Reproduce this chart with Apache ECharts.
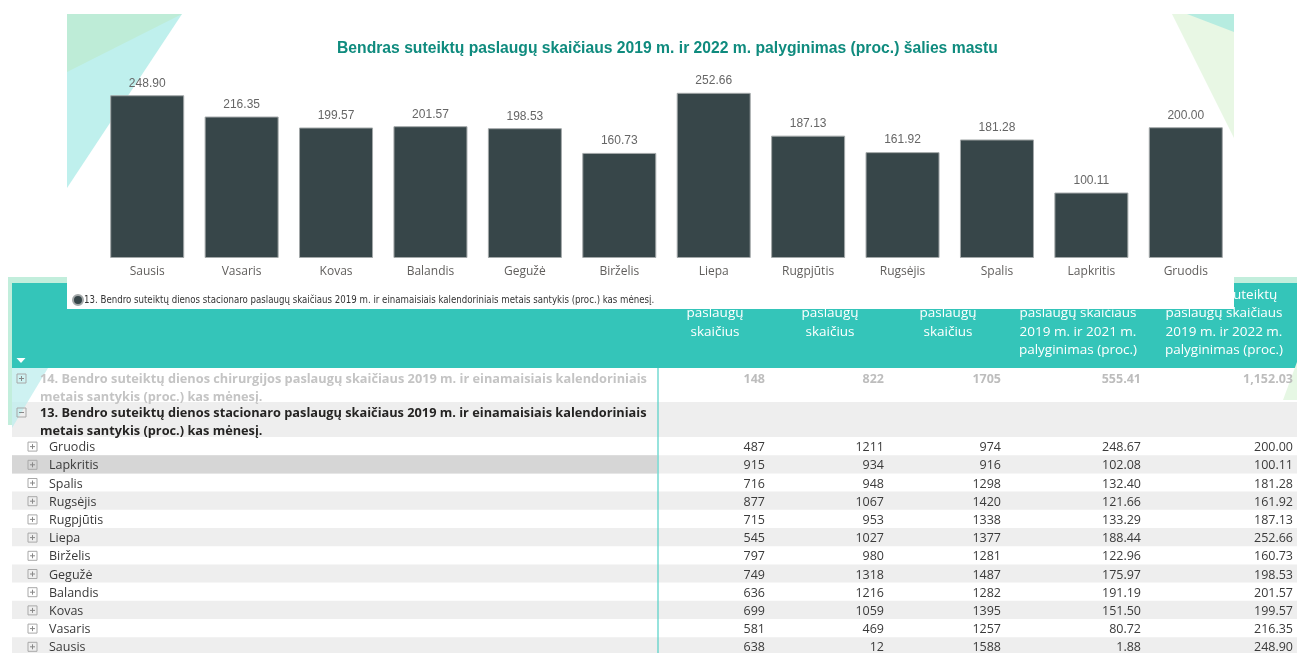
<!DOCTYPE html>
<html>
<head>
<meta charset="utf-8">
<script src="https://cdn.jsdelivr.net/npm/echarts@6/dist/echarts.min.js"></script>
<style>
  html, body { margin: 0; padding: 0; background: #ffffff; }
  #main { width: 1297px; height: 653px; }
</style>
</head>
<body>
<div id="main"></div>
<script>
// Months in calendar order (bar chart order)
var months = ['Sausis', 'Vasaris', 'Kovas', 'Balandis', 'Gegužė', 'Birželis', 'Liepa', 'Rugpjūtis', 'Rugsėjis', 'Spalis', 'Lapkritis', 'Gruodis'];
// 2019 m. vs 2022 m. (proc.)
var ratio2022 = [248.90, 216.35, 199.57, 201.57, 198.53, 160.73, 252.66, 187.13, 161.92, 181.28, 100.11, 200.00];
// 2019 m. vs 2021 m. (proc.)
var ratio2021 = [1.88, 80.72, 151.50, 191.19, 175.97, 122.96, 188.44, 133.29, 121.66, 132.40, 102.08, 248.67];
// suteiktų paslaugų skaičius
var count2019 = [638, 581, 699, 636, 749, 797, 545, 715, 877, 716, 915, 487];
var count2021 = [12, 469, 1059, 1216, 1318, 980, 1027, 953, 1067, 948, 934, 1211];
var count2022 = [1588, 1257, 1395, 1282, 1487, 1281, 1377, 1338, 1420, 1298, 916, 974];

// row 14 (collapsed group)
var row14Label = '14. Bendro suteiktų dienos chirurgijos paslaugų skaičiaus 2019 m. ir einamaisiais kalendoriniais\nmetais santykis (proc.) kas mėnesį.';
var row14Values = [148, 822, 1705, 555.41, 1152.03];
var row13Label = '13. Bendro suteiktų dienos stacionaro paslaugų skaičiaus 2019 m. ir einamaisiais kalendoriniais\nmetais santykis (proc.) kas mėnesį.';

var headCols = [
  ['2019 m. suteiktų', 'paslaugų', 'skaičius'],
  ['2021 m. suteiktų', 'paslaugų', 'skaičius'],
  ['2022 m. suteiktų', 'paslaugų', 'skaičius'],
  ['Bendras suteiktų', 'paslaugų skaičiaus', '2019 m. ir 2021 m.', 'palyginimas (proc.)'],
  ['Bendras suteiktų', 'paslaugų skaičiaus', '2019 m. ir 2022 m.', 'palyginimas (proc.)']
];

var chartTitle = 'Bendras suteiktų paslaugų skaičiaus 2019 m. ir 2022 m. palyginimas (proc.) šalies mastu';
var seriesName = '13. Bendro suteiktų dienos stacionaro paslaugų skaičiaus 2019 m. ir einamaisiais kalendoriniais metais santykis (proc.) kas mėnesį.';

var bodyFont = '"Open Sans", "Noto Sans", sans-serif';
var colRight = [765, 884, 1001, 1141, 1293];
var colCenter = [715, 830, 948, 1078, 1224];

function fmtInt(v) { return String(v); }
function fmtDec(v) {
  return v.toLocaleString('en-US', { minimumFractionDigits: 2, maximumFractionDigits: 2 });
}

function plusBox(x, y, minus) {
  var els = [
    { type: 'rect', z: 0, shape: { x: x, y: y, width: 9, height: 9 }, style: { fill: 'none', stroke: '#a8a8a8', lineWidth: 1 } },
    { type: 'line', z: 0, shape: { x1: x + 2, y1: y + 4.5, x2: x + 7, y2: y + 4.5 }, style: { stroke: '#888', lineWidth: 1 } }
  ];
  if (!minus) {
    els.push({ type: 'line', z: 0, shape: { x1: x + 4.5, y1: y + 2, x2: x + 4.5, y2: y + 7 }, style: { stroke: '#888', lineWidth: 1 } });
  }
  return els;
}

function txt(text, x, y, font, fill, align) {
  return {
    type: 'text', z: 0, x: x, y: y,
    style: { text: text, font: font, fill: fill, textAlign: align || 'left', textVerticalAlign: 'middle', lineHeight: 18 }
  };
}

var g = [];

// ---- table (behind the chart panel) ----
g.push({ type: 'rect', z: 0, shape: { x: 8, y: 277, width: 1289, height: 148 }, style: { fill: '#c2eedc' } });
g.push({ type: 'rect', z: 0, shape: { x: 12, y: 283, width: 1285, height: 85 }, style: { fill: '#34c5b9' } });
g.push({ type: 'polygon', z: 0, shape: { points: [[16.5, 358], [25.5, 358], [21, 363]] }, style: { fill: '#ffffff' } });

headCols.forEach(function (lines, c) {
  lines.forEach(function (line, i) {
    g.push(txt(line, colCenter[c], 295 + i * 18.5, '13.5px ' + bodyFont, '#ffffff', 'center'));
  });
});

// row 14
g.push({ type: 'rect', z: 0, shape: { x: 12, y: 368, width: 1285, height: 34 }, style: { fill: '#ffffff' } });
// row 13
g.push({ type: 'rect', z: 0, shape: { x: 12, y: 402, width: 1285, height: 35 }, style: { fill: '#eeeeee' } });
// faint decoration at the left and right
g.push({ type: 'polygon', z: 0, shape: { points: [[12, 368], [48, 368], [12, 428]] }, style: { fill: '#bdeeed', opacity: 0.75 } });
g.push({ type: 'polygon', z: 0, shape: { points: [[1297, 362], [1297, 400], [1283, 400]] }, style: { fill: '#e6f7e4' } });

g = g.concat(plusBox(17, 374, false));
g.push(txt(row14Label, 40, 388, 'bold 12.75px ' + bodyFont, '#c4c4c4'));
row14Values.forEach(function (v, c) {
  g.push(txt(c < 3 ? fmtInt(v) : fmtDec(v), colRight[c], 379, 'bold 12.5px ' + bodyFont, '#bdbdbd', 'right'));
});

g = g.concat(plusBox(17, 408, true));
g.push(txt(row13Label, 40, 422, 'bold 12.75px ' + bodyFont, '#252423'));

// month rows (table lists Gruodis first)
var rowTop = 437, rowH = 18.2;
for (var r = 0; r < months.length; r++) {
  var m = months.length - 1 - r;
  var y0 = rowTop + r * rowH;
  var cy = y0 + rowH / 2;
  if (r % 2 === 1) {
    g.push({ type: 'rect', z: 0, shape: { x: 12, y: y0, width: 1285, height: rowH }, style: { fill: '#eeeeee' } });
  }
  if (months[m] === 'Lapkritis') {
    g.push({ type: 'rect', z: 0, shape: { x: 12, y: y0, width: 645, height: rowH }, style: { fill: '#d6d6d6' } });
  }
  g = g.concat(plusBox(28, cy - 4, false));
  g.push(txt(months[m], 49, cy + 1.5, '12.5px ' + bodyFont, '#3a3a3a'));
  var vals = [fmtInt(count2019[m]), fmtInt(count2021[m]), fmtInt(count2022[m]), fmtDec(ratio2021[m]), fmtDec(ratio2022[m])];
  vals.forEach(function (s, c) {
    g.push(txt(s, colRight[c], cy + 1.5, '12.5px ' + bodyFont, '#3a3a3a', 'right'));
  });
}
g.push({ type: 'line', z: 0, shape: { x1: 658, y1: 368, x2: 658, y2: 653 }, style: { stroke: '#52d0c6', lineWidth: 1.2 } });

// ---- chart panel ----
g.push({ type: 'rect', z: 1, shape: { x: 67, y: 14, width: 1167, height: 295 }, style: { fill: '#ffffff' } });
g.push({ type: 'polygon', z: 1, shape: { points: [[67, 14], [182, 14], [67, 188]] }, style: { fill: '#bff0ed' } });
g.push({ type: 'polygon', z: 1, shape: { points: [[67, 14], [182, 14], [67, 72]] }, style: { fill: '#beecd7' } });
g.push({ type: 'polygon', z: 1, shape: { points: [[1172, 14], [1234, 14], [1234, 138]] }, style: { fill: '#e8f7e4' } });
g.push({ type: 'polygon', z: 1, shape: { points: [[1187, 14], [1234, 14], [1234, 32]] }, style: { fill: '#b6ece0' } });

var chart = echarts.init(document.getElementById('main'));
var option = {
  animation: false,
  backgroundColor: '#ffffff',
  title: {
    text: chartTitle,
    left: 332,
    top: 36,
    z: 6,
    textStyle: { fontFamily: '"Liberation Sans", Arial, sans-serif', fontWeight: 'bold', fontSize: 15.7, color: '#0f8b7e' }
  },
  legend: {
    left: 67,
    top: 289,
    z: 6,
    icon: 'circle',
    itemWidth: 10,
    itemHeight: 10,
    itemGap: 4,
    textStyle: { fontFamily: '"Liberation Sans Narrow", "DejaVu Sans Condensed", "Liberation Sans", sans-serif', fontSize: 9.6, color: '#333333', padding: [0, 0, 0, -4] },
    data: [seriesName]
  },
  grid: { left: 100, right: 64, top: 88, bottom: 395 },
  xAxis: {
    type: 'category',
    z: 5,
    data: months,
    axisLine: { show: false },
    axisTick: { show: false },
    axisLabel: { margin: 8, fontFamily: bodyFont, fontSize: 12, color: '#605e5c' }
  },
  yAxis: {
    type: 'value',
    min: 0,
    max: 260,
    show: false,
    splitLine: { show: false }
  },
  graphic: { elements: g },
  series: [{
    name: seriesName,
    type: 'bar',
    z: 5,
    data: ratio2022,
    barWidth: 74,
    itemStyle: { color: '#374649', borderColor: '#a3a8a9', borderWidth: 1 },
    label: {
      show: true,
      position: 'top',
      distance: 6,
      formatter: function (p) { return p.value.toFixed(2); },
      fontFamily: '"Liberation Sans", Arial, sans-serif',
      fontSize: 12,
      color: '#666666'
    }
  }]
};
chart.setOption(option);
</script>
</body>
</html>
